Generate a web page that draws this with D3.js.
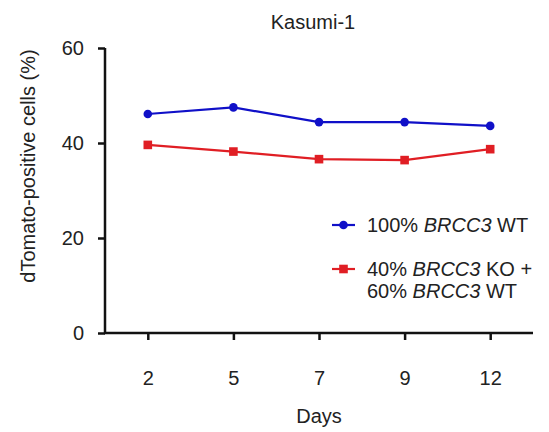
<!DOCTYPE html>
<html>
<head>
<meta charset="utf-8">
<script src="https://cdn.jsdelivr.net/npm/d3@7"></script>
<style>
  html, body { margin: 0; padding: 0; background: #fff; }
  svg text { font-family: "Liberation Sans", Arial, sans-serif; fill: #222; }
</style>
</head>
<body>
<svg id="chart" width="549" height="432"></svg>
<script>
const days = ["2", "5", "7", "9", "12"];
const wtValues = [46.1, 47.5, 44.4, 44.4, 43.6];
const mixValues = [39.6, 38.2, 36.6, 36.4, 38.7];
const yTicks = [0, 20, 40, 60];
const title = "Kasumi-1";
const xLabel = "Days";
const yLabel = "dTomato-positive cells (%)";

const svg = d3.select("#chart");
const mLeft = 105, mRight = 533, mTop = 48, mBottom = 333;
const fs = 20;

const x = d3.scalePoint().domain(days).range([mLeft, mRight]).padding(0.5);
const y = d3.scaleLinear().domain([0, 60]).range([mBottom, mTop]);

const blue = "#1010c8", red = "#e01e24";

// axes
const yAxis = svg.append("g").attr("transform", `translate(${mLeft},0)`)
  .call(d3.axisLeft(y).tickValues(yTicks).tickSize(7).tickPadding(14).tickSizeOuter(0));
const xAxis = svg.append("g").attr("transform", `translate(0,${mBottom})`)
  .call(d3.axisBottom(x).tickSize(7).tickPadding(38).tickSizeOuter(0));
[yAxis, xAxis].forEach(a => {
  a.attr("font-size", fs).attr("font-family", "Liberation Sans, Arial, sans-serif");
  a.select(".domain").attr("stroke", "#111").attr("stroke-width", 2.5);
  a.selectAll(".tick line").attr("stroke", "#111").attr("stroke-width", 2.5);
  a.selectAll(".tick text").attr("fill", "#222");
});
xAxis.selectAll(".tick text").attr("dy", "0.35em");
yAxis.select(".domain").attr("d", `M0,${y(60)}V${mBottom + 1}`);
xAxis.select(".domain").attr("d", `M${mLeft - 1},0H${mRight}`);

// lines
const line = d3.line().x((d, i) => x(days[i])).y(d => y(d));
svg.append("path").datum(wtValues).attr("d", line)
  .attr("fill", "none").attr("stroke", blue).attr("stroke-width", 2.2);
svg.append("path").datum(mixValues).attr("d", line)
  .attr("fill", "none").attr("stroke", red).attr("stroke-width", 2.2);

svg.selectAll("circle.wt").data(wtValues).enter().append("circle")
  .attr("cx", (d, i) => x(days[i])).attr("cy", d => y(d)).attr("r", 4.3).attr("fill", blue);
svg.selectAll("rect.mix").data(mixValues).enter().append("rect")
  .attr("x", (d, i) => x(days[i]) - 4.3).attr("y", d => y(d) - 4.3)
  .attr("width", 8.6).attr("height", 8.6).attr("fill", red);

// title and axis labels
svg.append("text").attr("x", 313).attr("y", 29).attr("text-anchor", "middle")
  .attr("font-size", fs).text(title);
svg.append("text").attr("x", 319).attr("y", 423).attr("text-anchor", "middle")
  .attr("font-size", fs).text(xLabel);
svg.append("text").attr("transform", "translate(35,166) rotate(-90)")
  .attr("text-anchor", "middle").attr("font-size", fs).text(yLabel);

// legend
const lg = svg.append("g").attr("font-size", fs);
lg.append("line").attr("x1", 332).attr("x2", 355).attr("y1", 225).attr("y2", 225)
  .attr("stroke", blue).attr("stroke-width", 2.2);
lg.append("circle").attr("cx", 343.5).attr("cy", 225).attr("r", 4.3).attr("fill", blue);
const t1 = lg.append("text").attr("x", 367).attr("y", 232);
t1.append("tspan").text("100% ");
t1.append("tspan").attr("font-style", "italic").text("BRCC3");
t1.append("tspan").text(" WT");

lg.append("line").attr("x1", 332).attr("x2", 355).attr("y1", 269).attr("y2", 269)
  .attr("stroke", red).attr("stroke-width", 2.2);
lg.append("rect").attr("x", 339.2).attr("y", 264.7).attr("width", 8.6).attr("height", 8.6).attr("fill", red);
const t2 = lg.append("text").attr("x", 367).attr("y", 276);
t2.append("tspan").text("40% ");
t2.append("tspan").attr("font-style", "italic").text("BRCC3");
t2.append("tspan").text(" KO +");
const t3 = lg.append("text").attr("x", 367).attr("y", 298);
t3.append("tspan").text("60% ");
t3.append("tspan").attr("font-style", "italic").text("BRCC3");
t3.append("tspan").text(" WT");
</script>
</body>
</html>
